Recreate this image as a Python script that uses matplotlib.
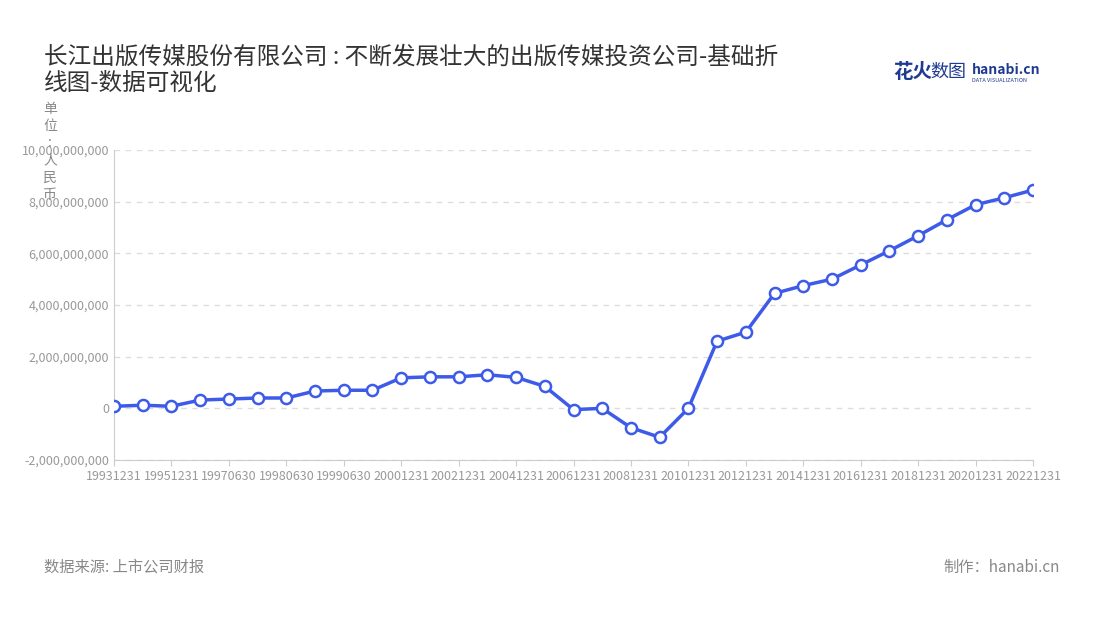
import matplotlib
matplotlib.use("Agg")
import matplotlib.pyplot as plt
from matplotlib.ticker import FuncFormatter

plt.rcParams['font.family'] = ['Noto Sans CJK SC', 'DejaVu Sans']

dates = ["19931231","19941231","19951231","19961231","19970630","19971231","19980630","19981231",
         "19990630","19991231","20001231","20011231","20021231","20031231","20041231","20051231",
         "20061231","20071231","20081231","20091231","20101231","20111231","20121231","20131231",
         "20141231","20151231","20161231","20171231","20181231","20191231","20201231","20211231","20221231"]
values = [0.08,0.12,0.08,0.32,0.36,0.40,0.40,0.67,0.70,0.70,1.18,1.22,1.22,1.30,1.20,0.85,
          -0.05,0.0,-0.75,-1.12,0.0,2.6,2.95,4.45,4.75,5.0,5.55,6.1,6.68,7.3,7.88,8.15,8.45]
values = [v * 1e9 for v in values]

fig = plt.figure(figsize=(11, 6.2), dpi=100)
ax = fig.add_axes([114/1100, 1-460/620, (1033-114)/1100, 310/620])
x = list(range(len(dates)))
ax.plot(x, values, color='#3d5be8', lw=2.5, marker='o', ms=8, mfc='white', mec='#3d5be8', mew=1.8, zorder=3)
ax.set_xlim(0, len(dates)-1)
ax.set_ylim(-2e9, 10e9)
ax.set_yticks([-2e9, 0, 2e9, 4e9, 6e9, 8e9, 10e9])
ax.yaxis.set_major_formatter(FuncFormatter(lambda v, p: f"{int(v):,}"))
ax.set_xticks(x[::2])
ax.set_xticklabels(dates[::2])
ax.tick_params(axis='both', labelsize=9, colors='#999999', length=4)
ax.tick_params(axis='y', length=0)
ax.tick_params(axis='x', color='#cccccc')
ax.grid(axis='y', ls=(0, (4, 4)), color='#dddddd', lw=1)
for s in ['top', 'right']:
    ax.spines[s].set_visible(False)
for s in ['left', 'bottom']:
    ax.spines[s].set_color('#cccccc')

fig.text(44/1100, 1-70/620, "长江出版传媒股份有限公司 : 不断发展壮大的出版传媒投资公司-基础折\n线图-数据可视化",
         fontsize=17, color='#333333', va='center', linespacing=1.2)
fig.text(50/1100, 1-152/620, "单\n位\n:\n人\n民\n币", fontsize=10, color='#888888', ha='center', va='center', linespacing=1.3)
fig.text(44/1100, 1-567/620, "数据来源: 上市公司财报", fontsize=11, color='#888888', va='center')
fig.text(1060/1100, 1-567/620, "制作：hanabi.cn", fontsize=11, color='#888888', va='center', ha='right')
fig.text(893/1100, 1-72/620, "花火", fontsize=14, color='#1f3a93', weight='bold', va='center')
fig.text(930/1100, 1-72/620, "数图", fontsize=13, color='#1f3a93', va='center')
fig.text(972/1100, 1-70/620, "hanabi.cn", fontsize=10, color='#1f3a93', weight='bold', va='center')
fig.text(972/1100, 1-80/620, "DATA VISUALIZATION", fontsize=4, color='#1f3a93', va='center')
fig.savefig("out.png", dpi=100)
